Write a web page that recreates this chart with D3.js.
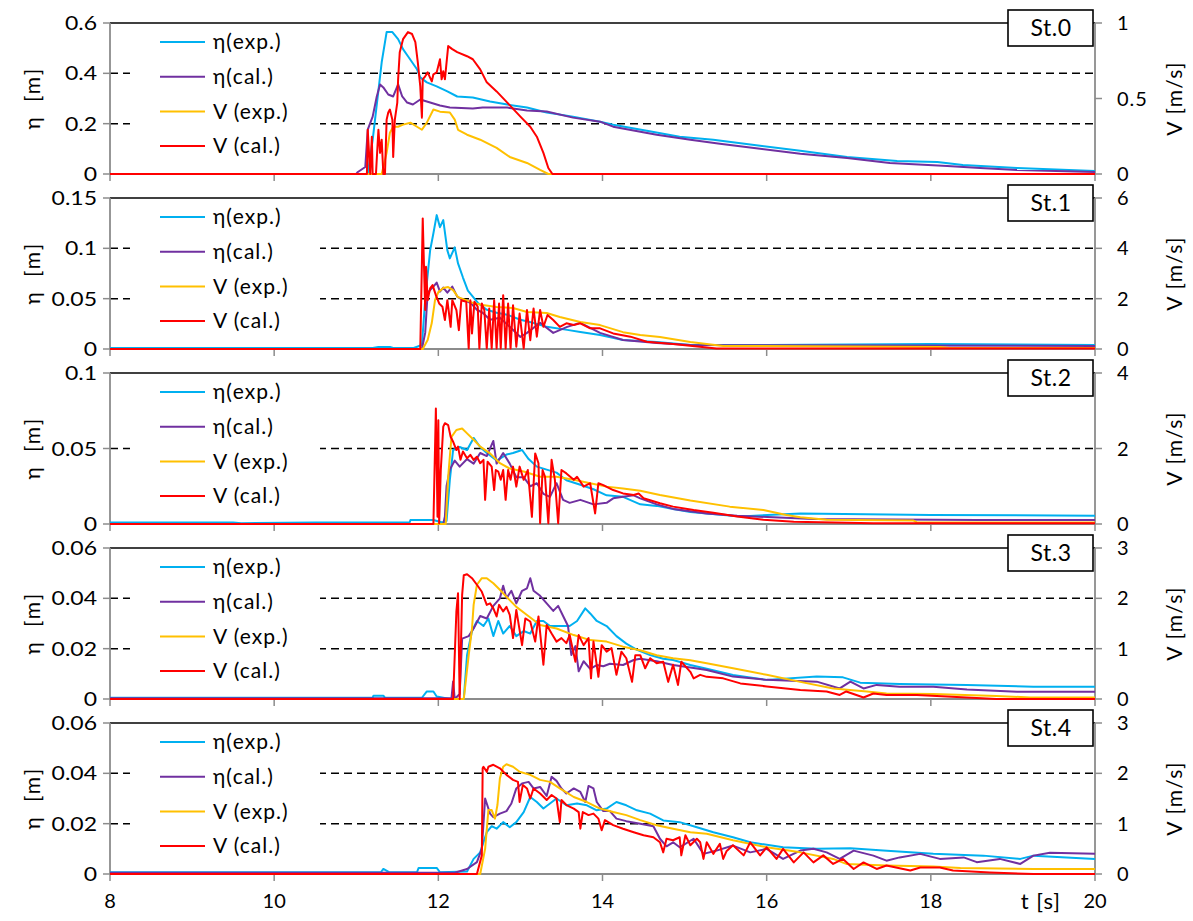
<!DOCTYPE html>
<html><head><meta charset="utf-8">
<script src="https://cdn.jsdelivr.net/npm/d3@7"></script>
<style>
body{margin:0;background:#fff}
svg{display:block;font-family:Lato,"Noto Sans","DejaVu Sans",sans-serif}
</style></head><body>
<svg id="chart" width="1193" height="921"></svg>
<script>
// ---- panel settings ----
const stations = ["St.0", "St.1", "St.2", "St.3", "St.4"];
const etaMax = [0.6, 0.15, 0.1, 0.06, 0.06];
const etaTicks = [[0, 0.2, 0.4, 0.6], [0, 0.05, 0.1, 0.15], [0, 0.05, 0.1], [0, 0.02, 0.04, 0.06], [0, 0.02, 0.04, 0.06]];
const vMax = [1, 6, 4, 3, 3];
const vTicks = [[0, 0.5, 1], [0, 2, 4, 6], [0, 2, 4], [0, 1, 2, 3], [0, 1, 2, 3]];
const tTicks = [8, 10, 12, 14, 16, 18, 20];
const seriesNames = ["η(exp.)", "η(cal.)", "V (exp.)", "V (cal.)"];
const seriesColors = ["#00B0F0", "#7030A0", "#FFC000", "#FF0000"];

// ---- St.0 : [t (s), value] ----
const st0EtaExp = [[8,0],[11.14,0],[11.2,0.136],[11.31,0.444],[11.37,0.564],[11.44,0.564],[11.51,0.536],[11.57,0.496],[11.63,0.468],[11.74,0.416],[11.78,0.384],[11.86,0.364],[11.98,0.348],[12.11,0.328],[12.23,0.308],[12.42,0.304],[12.63,0.288],[12.84,0.276],[13.08,0.264],[13.32,0.244],[13.64,0.228],[13.97,0.208],[14.13,0.196],[14.54,0.172],[14.94,0.148],[15.35,0.136],[15.92,0.112],[16.41,0.092],[16.98,0.068],[17.59,0.052],[18.08,0.048],[18.39,0.036],[19.05,0.024],[20,0.012]];
const st0EtaCal = [[8,0],[11.0,0],[11.02,0.008],[11.11,0.028],[11.14,0.176],[11.2,0.228],[11.25,0.308],[11.29,0.356],[11.33,0.344],[11.39,0.316],[11.45,0.308],[11.51,0.356],[11.56,0.308],[11.62,0.284],[11.69,0.276],[11.78,0.296],[11.86,0.288],[12.02,0.272],[12.14,0.264],[12.42,0.26],[12.54,0.264],[12.84,0.264],[13.08,0.252],[13.32,0.248],[13.64,0.224],[13.97,0.208],[14.13,0.188],[14.66,0.156],[15.07,0.136],[15.43,0.12],[15.92,0.1],[16.41,0.08],[16.98,0.064],[17.5,0.044],[18.2,0.032],[18.6,0.024],[19.05,0.016],[20,0.008]];
const st0VExp = [[8,0],[11.31,0],[11.37,0.14],[11.41,0.273],[11.45,0.313],[11.51,0.313],[11.57,0.327],[11.66,0.34],[11.74,0.313],[11.8,0.293],[11.86,0.34],[11.94,0.427],[12.02,0.413],[12.14,0.407],[12.2,0.36],[12.24,0.293],[12.35,0.26],[12.51,0.227],[12.71,0.173],[12.87,0.113],[13.08,0.073],[13.24,0.027],[13.34,0],[20,0]];
const st0VCal = [[8,0],[11.13,0],[11.14,0.293],[11.17,0],[11.19,0.247],[11.2,0],[11.24,0],[11.27,0.293],[11.29,0.14],[11.31,0.227],[11.33,0],[11.35,0],[11.37,0.36],[11.39,0.407],[11.41,0.427],[11.44,0.36],[11.45,0.113],[11.47,0.36],[11.5,0.473],[11.51,0.627],[11.53,0.807],[11.57,0.893],[11.63,0.94],[11.68,0.927],[11.72,0.873],[11.75,0.74],[11.78,0.58],[11.8,0.373],[11.81,0.627],[11.84,0.647],[11.87,0.673],[11.92,0.613],[11.94,0.66],[11.98,0.673],[12.02,0.76],[12.04,0.627],[12.06,0.68],[12.08,0.627],[12.12,0.847],[12.17,0.827],[12.23,0.807],[12.35,0.78],[12.42,0.76],[12.51,0.693],[12.59,0.607],[12.71,0.547],[12.84,0.473],[13.0,0.38],[13.12,0.313],[13.2,0.247],[13.28,0.14],[13.34,0.04],[13.39,0],[20,0]];

// ---- St.1 ----
const st1EtaExp = [[8,0.001],[11.2,0.001],[11.27,0.002],[11.41,0.002],[11.45,0.001],[11.7,0.001],[11.8,0.004],[11.84,0.049],[11.9,0.098],[11.94,0.115],[11.98,0.133],[12.02,0.121],[12.06,0.128],[12.11,0.098],[12.14,0.09],[12.2,0.101],[12.24,0.085],[12.3,0.071],[12.36,0.058],[12.42,0.052],[12.48,0.046],[12.59,0.039],[12.71,0.036],[12.84,0.034],[13.0,0.029],[13.15,0.026],[13.32,0.022],[13.57,0.019],[13.73,0.017],[13.97,0.014],[14.25,0.009],[14.66,0.007],[15.07,0.004],[16,0.004],[18,0.005],[20,0.004]];
const st1EtaCal = [[8,0],[11.8,0],[11.84,0.016],[11.87,0.056],[11.94,0.062],[11.98,0.066],[12.02,0.057],[12.06,0.061],[12.11,0.056],[12.17,0.062],[12.23,0.052],[12.29,0.049],[12.39,0.046],[12.47,0.039],[12.54,0.036],[12.63,0.029],[12.75,0.031],[12.87,0.022],[13.0,0.012],[13.08,0.016],[13.24,0.026],[13.4,0.016],[13.57,0.022],[13.73,0.026],[13.97,0.016],[14.25,0.009],[14.66,0.006],[15.07,0.004],[20,0.003]];
const st1VExp = [[8,0],[11.81,0],[11.87,0.36],[11.92,1.03],[11.96,1.95],[12.0,2.26],[12.06,2.42],[12.12,2.46],[12.18,2.34],[12.24,2.06],[12.33,1.95],[12.42,1.83],[12.54,1.75],[12.71,1.67],[12.91,1.63],[13.08,1.47],[13.32,1.43],[13.48,1.27],[13.73,1.07],[13.97,0.95],[14.25,0.67],[14.46,0.56],[14.7,0.48],[15.07,0.28],[15.27,0.2],[15.47,0.12],[15.92,0.12],[18.11,0.08],[18.23,0.04],[20,0.04]];
const st1VCal = [[8,0],[11.78,0],[11.81,5.19],[11.82,3.93],[11.84,1.55],[11.85,3.27],[11.87,1.94],[11.9,2.41],[11.93,2.54],[11.97,2.14],[12.01,1.81],[12.05,1.68],[12.08,1.15],[12.11,1.94],[12.15,0.88],[12.17,1.94],[12.22,1.55],[12.25,0.75],[12.28,1.94],[12.34,1.88],[12.37,0.02],[12.39,1.94],[12.41,0.62],[12.44,1.88],[12.48,1.68],[12.5,0.02],[12.53,1.81],[12.56,1.55],[12.59,0.02],[12.62,1.61],[12.65,0.02],[12.68,1.94],[12.71,0.02],[12.74,1.81],[12.76,0.02],[12.79,2.14],[12.82,0.02],[12.85,1.81],[12.88,0.02],[12.91,1.74],[12.95,0.09],[12.99,1.41],[13.04,0.02],[13.08,1.55],[13.12,0.35],[13.16,1.61],[13.2,0.49],[13.24,1.55],[13.28,0.88],[13.33,1.35],[13.4,1.15],[13.48,0.88],[13.56,1.02],[13.65,0.95],[13.73,1.02],[13.85,0.82],[13.97,0.82],[14.13,0.62],[14.34,0.49],[14.54,0.29],[14.86,0.2],[15.39,0.02],[20,0.02]];

// ---- St.2 ----
const st2EtaExp = [[8,0.001],[9.5,0.001],[9.6,0.0005],[10.5,0.001],[11.65,0.001],[11.66,0.0026],[11.94,0.0026],[12.05,0.001],[12.1,0.002],[12.14,0.029],[12.18,0.049],[12.26,0.051],[12.35,0.049],[12.43,0.057],[12.51,0.051],[12.59,0.047],[12.71,0.042],[12.83,0.046],[12.91,0.047],[13.02,0.049],[13.1,0.043],[13.2,0.038],[13.32,0.036],[13.44,0.034],[13.56,0.029],[13.73,0.026],[13.89,0.023],[14.05,0.019],[14.25,0.018],[14.46,0.013],[14.66,0.012],[14.86,0.01],[15.07,0.008],[15.27,0.007],[15.68,0.005],[16.41,0.007],[18,0.006],[20,0.0055]];
const st2EtaCal = [[8,0],[12.06,0],[12.08,0.005],[12.1,0.025],[12.14,0.036],[12.2,0.042],[12.26,0.038],[12.35,0.043],[12.43,0.04],[12.51,0.047],[12.59,0.045],[12.67,0.055],[12.71,0.04],[12.79,0.047],[12.87,0.04],[12.95,0.031],[13.04,0.031],[13.12,0.025],[13.2,0.027],[13.28,0.02],[13.36,0.018],[13.44,0.027],[13.52,0.016],[13.6,0.014],[13.73,0.016],[13.89,0.013],[14.05,0.014],[14.13,0.017],[14.25,0.018],[14.38,0.019],[14.46,0.017],[14.66,0.013],[14.86,0.01],[15.27,0.007],[15.64,0.0055],[16.08,0.0044],[16.57,0.0033],[18.56,0.0026],[20,0.0026]];
const st2VExp = [[8,0],[12.09,0],[12.12,1.25],[12.16,2.31],[12.22,2.49],[12.29,2.53],[12.35,2.4],[12.43,2.23],[12.51,2.05],[12.63,1.87],[12.75,1.61],[12.87,1.47],[13.04,1.39],[13.24,1.25],[13.44,1.25],[13.65,1.17],[13.85,1.08],[14.05,0.99],[14.25,0.94],[14.46,0.88],[14.7,0.77],[15.07,0.62],[15.55,0.46],[15.96,0.37],[16.24,0.24],[16.41,0.18],[16.73,0.11],[17.79,0.09],[17.83,0.04],[20,0.04]];
const st2VCal = [[8,0],[11.94,0],[11.97,3.06],[11.99,0.19],[12.0,2.75],[12.01,0.02],[12.03,1.43],[12.06,2.58],[12.08,2.67],[12.12,2.62],[12.15,2.31],[12.18,2.18],[12.22,1.96],[12.24,2.05],[12.27,1.7],[12.3,1.92],[12.35,1.74],[12.39,1.83],[12.43,1.7],[12.47,1.78],[12.51,1.61],[12.55,1.7],[12.57,0.64],[12.6,1.65],[12.65,1.52],[12.68,0.9],[12.7,1.43],[12.73,1.39],[12.76,1.17],[12.79,1.43],[12.82,0.64],[12.85,1.43],[12.88,1.17],[12.91,1.52],[12.95,0.99],[12.99,1.52],[13.04,1.17],[13.09,1.43],[13.14,0.19],[13.18,1.87],[13.22,1.61],[13.24,0.02],[13.27,1.43],[13.3,1.25],[13.34,0.02],[13.38,1.7],[13.42,1.17],[13.46,0.02],[13.5,1.43],[13.56,1.34],[13.65,1.17],[13.69,1.25],[13.77,0.99],[13.85,1.08],[13.91,0.28],[13.95,1.08],[14.01,1.03],[14.13,0.9],[14.25,0.81],[14.38,0.77],[14.44,0.81],[14.5,0.68],[14.7,0.55],[14.86,0.46],[15.11,0.37],[15.35,0.3],[15.64,0.2],[15.96,0.11],[16.33,0.06],[17.3,0.02],[20,0.02]];

// ---- St.3 ----
const st3EtaExp = [[8,0.0005],[11.2,0.0005],[11.21,0.0013],[11.33,0.0013],[11.35,0.0005],[11.8,0.0005],[11.86,0.003],[11.94,0.003],[11.98,0.001],[12.14,0],[12.31,0],[12.35,0.0175],[12.41,0.027],[12.47,0.031],[12.55,0.029],[12.61,0.032],[12.67,0.025],[12.73,0.031],[12.79,0.026],[12.87,0.029],[12.95,0.025],[13.04,0.027],[13.12,0.026],[13.2,0.031],[13.28,0.031],[13.36,0.029],[13.48,0.029],[13.6,0.029],[13.69,0.031],[13.79,0.036],[13.85,0.034],[13.93,0.031],[14.05,0.029],[14.17,0.025],[14.29,0.022],[14.42,0.0195],[14.58,0.0175],[14.74,0.016],[14.86,0.0155],[15.07,0.0135],[15.27,0.012],[15.59,0.0095],[16.0,0.0076],[16.61,0.0089],[16.93,0.0086],[17.14,0.0065],[17.62,0.006],[18.44,0.0056],[19.25,0.0049],[20,0.0049]];
const st3EtaCal = [[8,0.0003],[12.16,0.0003],[12.18,0.007],[12.2,0],[12.26,0.002],[12.29,0.024],[12.37,0.025],[12.43,0.028],[12.51,0.033],[12.59,0.032],[12.67,0.037],[12.75,0.04],[12.79,0.045],[12.83,0.04],[12.89,0.043],[12.95,0.038],[13.02,0.043],[13.08,0.044],[13.12,0.048],[13.16,0.043],[13.24,0.041],[13.32,0.038],[13.4,0.035],[13.46,0.037],[13.52,0.033],[13.58,0.029],[13.62,0.0175],[13.67,0.021],[13.71,0.011],[13.77,0.015],[13.85,0.012],[13.93,0.0135],[14.01,0.013],[14.09,0.014],[14.25,0.0135],[14.38,0.0155],[14.46,0.016],[14.66,0.015],[14.86,0.0135],[15.07,0.0125],[15.27,0.0115],[15.59,0.0089],[16.0,0.0076],[16.61,0.0069],[16.89,0.0042],[17.02,0.0069],[17.18,0.0042],[17.34,0.0056],[17.62,0.0049],[18.03,0.0049],[18.44,0.0038],[19.05,0.0029],[20,0.0029]];
const st3VExp = [[8,0],[12.31,0],[12.37,0.87],[12.41,1.4],[12.43,1.87],[12.47,2.27],[12.53,2.4],[12.59,2.4],[12.67,2.3],[12.75,2.17],[12.83,2.03],[12.95,1.83],[13.08,1.67],[13.24,1.47],[13.44,1.4],[13.65,1.27],[13.85,1.17],[14.05,1.14],[14.25,1.04],[14.46,0.97],[14.66,0.87],[14.86,0.81],[15.07,0.77],[15.27,0.71],[15.59,0.61],[16.0,0.48],[16.41,0.34],[16.81,0.21],[17.22,0.15],[17.46,0.11],[18.03,0.1],[18.8,0.06],[19.21,0.03],[20,0.03]];
const st3VCal = [[8,0],[12.18,0],[12.22,1.74],[12.24,2.1],[12.26,0],[12.29,2.07],[12.31,2.46],[12.35,2.48],[12.41,2.4],[12.47,2.27],[12.53,2.13],[12.59,1.87],[12.63,1.9],[12.67,1.8],[12.71,1.64],[12.74,1.87],[12.79,1.74],[12.83,1.83],[12.87,1.67],[12.91,1.21],[12.95,1.77],[13.02,1.07],[13.06,1.6],[13.12,1.54],[13.18,1.14],[13.22,1.64],[13.28,0.68],[13.32,1.47],[13.38,1.3],[13.44,1.14],[13.5,1.21],[13.56,1.11],[13.6,1.27],[13.67,0.74],[13.71,1.27],[13.77,1.07],[13.83,1.21],[13.86,0.41],[13.89,1.14],[13.95,0.44],[13.99,1.07],[14.05,0.94],[14.11,1.01],[14.17,0.48],[14.23,0.94],[14.29,0.81],[14.36,0.34],[14.4,0.87],[14.46,0.87],[14.52,0.61],[14.58,0.81],[14.66,0.71],[14.74,0.74],[14.8,0.34],[14.86,0.68],[14.92,0.28],[14.96,0.74],[15.07,0.54],[15.11,0.41],[15.19,0.48],[15.27,0.44],[15.47,0.41],[15.68,0.31],[16.0,0.25],[16.41,0.18],[16.73,0.15],[16.89,0.08],[16.97,0.15],[17.18,0.03],[17.3,0.11],[17.46,0.08],[17.83,0.08],[18.8,0],[20,0]];

// ---- St.4 ----
const st4EtaExp = [[8,0.0007],[11.3,0.0007],[11.33,0.002],[11.4,0.0007],[11.74,0.0007],[11.76,0.0024],[11.98,0.0024],[12.02,0.0007],[12.35,0.001],[12.43,0.006],[12.51,0.0086],[12.59,0.0166],[12.65,0.019],[12.71,0.018],[12.79,0.0206],[12.87,0.0186],[12.95,0.0206],[13.04,0.0246],[13.12,0.0306],[13.2,0.0286],[13.28,0.026],[13.36,0.028],[13.44,0.03],[13.56,0.0273],[13.69,0.028],[13.81,0.0273],[13.93,0.0253],[14.05,0.026],[14.17,0.0286],[14.29,0.0273],[14.42,0.0253],[14.58,0.024],[14.74,0.0213],[14.94,0.0206],[15.15,0.0186],[15.35,0.0166],[15.59,0.0146],[15.8,0.0126],[16.2,0.0106],[16.61,0.01],[17.02,0.0102],[17.42,0.0093],[18.03,0.008],[18.64,0.0073],[19.09,0.006],[19.25,0.0073],[20,0.006]];
const st4EtaCal = [[8,0.0005],[12.2,0.0005],[12.35,0.002],[12.47,0.0047],[12.53,0.01],[12.57,0.03],[12.59,0.028],[12.63,0.024],[12.67,0.0226],[12.75,0.024],[12.83,0.025],[12.89,0.028],[12.95,0.034],[13.02,0.036],[13.1,0.0366],[13.16,0.034],[13.24,0.0346],[13.32,0.031],[13.38,0.0386],[13.44,0.037],[13.5,0.034],[13.56,0.032],[13.65,0.034],[13.73,0.0326],[13.79,0.0286],[13.83,0.035],[13.89,0.034],[13.93,0.0286],[14.01,0.025],[14.09,0.025],[14.17,0.022],[14.29,0.021],[14.46,0.02],[14.62,0.019],[14.7,0.014],[14.78,0.011],[14.86,0.0126],[14.94,0.0106],[15.11,0.014],[15.23,0.008],[15.39,0.0093],[15.59,0.0113],[15.8,0.0086],[16.0,0.01],[16.2,0.006],[16.41,0.0093],[16.57,0.01],[16.73,0.0086],[16.89,0.006],[17.06,0.0093],[17.3,0.0073],[17.46,0.0053],[17.62,0.0066],[17.87,0.008],[18.11,0.006],[18.4,0.0066],[18.56,0.0047],[18.84,0.006],[19.09,0.004],[19.25,0.0073],[19.45,0.0084],[20,0.008]];
const st4VExp = [[8,0],[12.51,0],[12.57,0.5],[12.61,1.27],[12.65,1.27],[12.69,1.1],[12.72,1.37],[12.75,1.9],[12.79,2.13],[12.83,2.18],[12.91,2.13],[12.99,2.03],[13.12,1.97],[13.24,1.87],[13.36,1.83],[13.48,1.7],[13.65,1.53],[13.81,1.43],[13.97,1.3],[14.13,1.23],[14.29,1.17],[14.46,1.07],[14.66,0.97],[14.86,0.9],[15.07,0.83],[15.27,0.8],[15.59,0.67],[16.0,0.53],[16.41,0.43],[16.81,0.3],[16.97,0.2],[17.46,0.17],[18.03,0.15],[18.36,0.12],[19.25,0.1],[20,0.1]];
const st4VCal = [[8,0],[12.47,0],[12.53,0.37],[12.54,2.1],[12.55,2.13],[12.59,2.03],[12.61,2.13],[12.67,2.17],[12.75,2.1],[12.83,1.97],[12.91,1.87],[12.97,1.83],[12.99,1.43],[13.03,1.77],[13.08,1.7],[13.12,1.5],[13.16,1.7],[13.24,1.6],[13.32,1.47],[13.38,1.57],[13.44,1.5],[13.48,1.03],[13.5,1.47],[13.56,1.37],[13.65,1.3],[13.71,1.23],[13.73,0.9],[13.76,1.23],[13.83,1.17],[13.89,1.2],[13.95,1.1],[13.99,0.87],[14.03,1.07],[14.13,0.97],[14.25,0.9],[14.38,0.83],[14.5,0.77],[14.62,0.73],[14.7,0.63],[14.74,0.43],[14.78,0.7],[14.86,0.67],[14.94,0.73],[14.96,0.37],[15.01,0.77],[15.07,0.57],[15.15,0.7],[15.19,0.63],[15.23,0.3],[15.27,0.63],[15.35,0.4],[15.43,0.6],[15.47,0.3],[15.51,0.45],[15.59,0.57],[15.72,0.37],[15.8,0.63],[15.92,0.37],[16.0,0.53],[16.12,0.3],[16.2,0.5],[16.33,0.23],[16.45,0.43],[16.57,0.23],[16.69,0.37],[16.81,0.2],[16.93,0.3],[17.06,0.1],[17.18,0.23],[17.34,0.1],[17.46,0.17],[17.75,0.07],[17.87,0.13],[18.11,0.13],[18.27,0.07],[18.72,0.03],[19.25,0],[20,0]];

const panelSeries = [
  [st0EtaExp, st0EtaCal, st0VExp, st0VCal],
  [st1EtaExp, st1EtaCal, st1VExp, st1VCal],
  [st2EtaExp, st2EtaCal, st2VExp, st2VCal],
  [st3EtaExp, st3EtaCal, st3VExp, st3VCal],
  [st4EtaExp, st4EtaCal, st4VExp, st4VCal],
];

// ---- layout ----
const ML = 110, MR = 1095, TOP0 = 23, STEP = 175, PH = 151;
const AX = "#8c8c8c", FS = 20;
const svg = d3.select("#chart");
const x = d3.scaleLinear().domain([8, 20]).range([ML, MR]);

// text helper; sx stretches glyphs horizontally like the original rendering
function label(g, px, py, s, size, ls, anchor, sx) {
  return g.append("text").attr("x", 0).attr("y", 0).attr("dy", "0.35em")
    .attr("transform", `translate(${px},${py}) scale(${sx || 1},1)`)
    .attr("text-anchor", anchor || "start").attr("font-size", size)
    .style("letter-spacing", ls + "px").style("white-space", "pre").text(s);
}

stations.forEach((name, i) => {
  const top = TOP0 + i * STEP, bot = top + PH;
  const yL = d3.scaleLinear().domain([0, etaMax[i]]).range([bot, top]);
  const yR = d3.scaleLinear().domain([0, vMax[i]]).range([bot, top]);
  const g = svg.append("g");

  // gridlines: dashed between, solid on top
  etaTicks[i].filter(v => v > 0 && v < etaMax[i]).forEach(v => {
    g.append("line").attr("x1", ML).attr("x2", MR).attr("y1", yL(v)).attr("y2", yL(v))
      .attr("stroke", "#000").attr("stroke-width", 1.5).attr("stroke-dasharray", "8 5");
  });
  g.append("line").attr("x1", ML).attr("x2", MR).attr("y1", top).attr("y2", top)
    .attr("stroke", "#000").attr("stroke-width", 1.6);

  // axes
  g.append("line").attr("x1", ML).attr("x2", ML).attr("y1", top).attr("y2", bot).attr("stroke", AX).attr("stroke-width", 1.8);
  g.append("line").attr("x1", MR).attr("x2", MR).attr("y1", top).attr("y2", bot).attr("stroke", AX).attr("stroke-width", 1.8);
  g.append("line").attr("x1", ML).attr("x2", MR).attr("y1", bot).attr("y2", bot).attr("stroke", AX).attr("stroke-width", 1.8);
  tTicks.forEach(t => g.append("line").attr("x1", x(t)).attr("x2", x(t)).attr("y1", bot).attr("y2", bot + 7).attr("stroke", AX).attr("stroke-width", 1.5));

  etaTicks[i].forEach(v => {
    g.append("line").attr("x1", ML - 7).attr("x2", ML).attr("y1", yL(v)).attr("y2", yL(v)).attr("stroke", AX).attr("stroke-width", 1.5);
    label(g, ML - 13, yL(v), String(v), FS, 0, "end", 1.15);
  });
  vTicks[i].forEach(v => {
    g.append("line").attr("x1", MR).attr("x2", MR + 7).attr("y1", yR(v)).attr("y2", yR(v)).attr("stroke", AX).attr("stroke-width", 1.5);
    label(g, MR + 22, yR(v), String(v), FS, 1);
  });

  const mid = (top + bot) / 2;
  label(g, 0, 0, "η  [m]", 21, 1.5, "middle").attr("transform", `translate(33,${mid}) rotate(-90)`);
  label(g, 0, 0, "V [m/s]", 21, 1.3, "middle").attr("transform", `translate(1175,${mid}) rotate(-90)`);

  // series
  const clipId = "clip" + i;
  svg.append("clipPath").attr("id", clipId).append("rect")
    .attr("x", ML).attr("y", top - 2).attr("width", MR - ML).attr("height", PH + 3);
  const lines = g.append("g").attr("clip-path", `url(#${clipId})`);
  panelSeries[i].forEach((data, k) => {
    const yS = k < 2 ? yL : yR;
    const line = d3.line().x(d => x(d[0])).y(d => yS(d[1]));
    lines.append("path").attr("d", line(data)).attr("fill", "none")
      .attr("stroke", seriesColors[k]).attr("stroke-width", 2).attr("stroke-linejoin", "round");
  });

  // legend
  g.append("rect").attr("x", 130).attr("y", top + 4).attr("width", 190).attr("height", 134).attr("fill", "#fff");
  seriesNames.forEach((s, k) => {
    const ly = top + 19 + k * 34.7;
    g.append("line").attr("x1", 160).attr("x2", 205).attr("y1", ly).attr("y2", ly)
      .attr("stroke", seriesColors[k]).attr("stroke-width", 2);
    label(g, 213, ly, s, 21, 1);
  });

  // station box
  g.append("rect").attr("x", 1008).attr("y", top - 13).attr("width", 85).attr("height", 36)
    .attr("fill", "#fff").attr("stroke", "#000").attr("stroke-width", 1.6);
  label(g, 1051, top + 5, name, 23, 0.5, "middle");

  // time axis labels on the last panel
  if (i === stations.length - 1) {
    tTicks.forEach(t => label(g, x(t), bot + 27, String(t), FS, 0, "middle"));
    label(g, 1061, bot + 27, "t [s]", 22, 1, "end");
  }
});
</script>
</body></html>
